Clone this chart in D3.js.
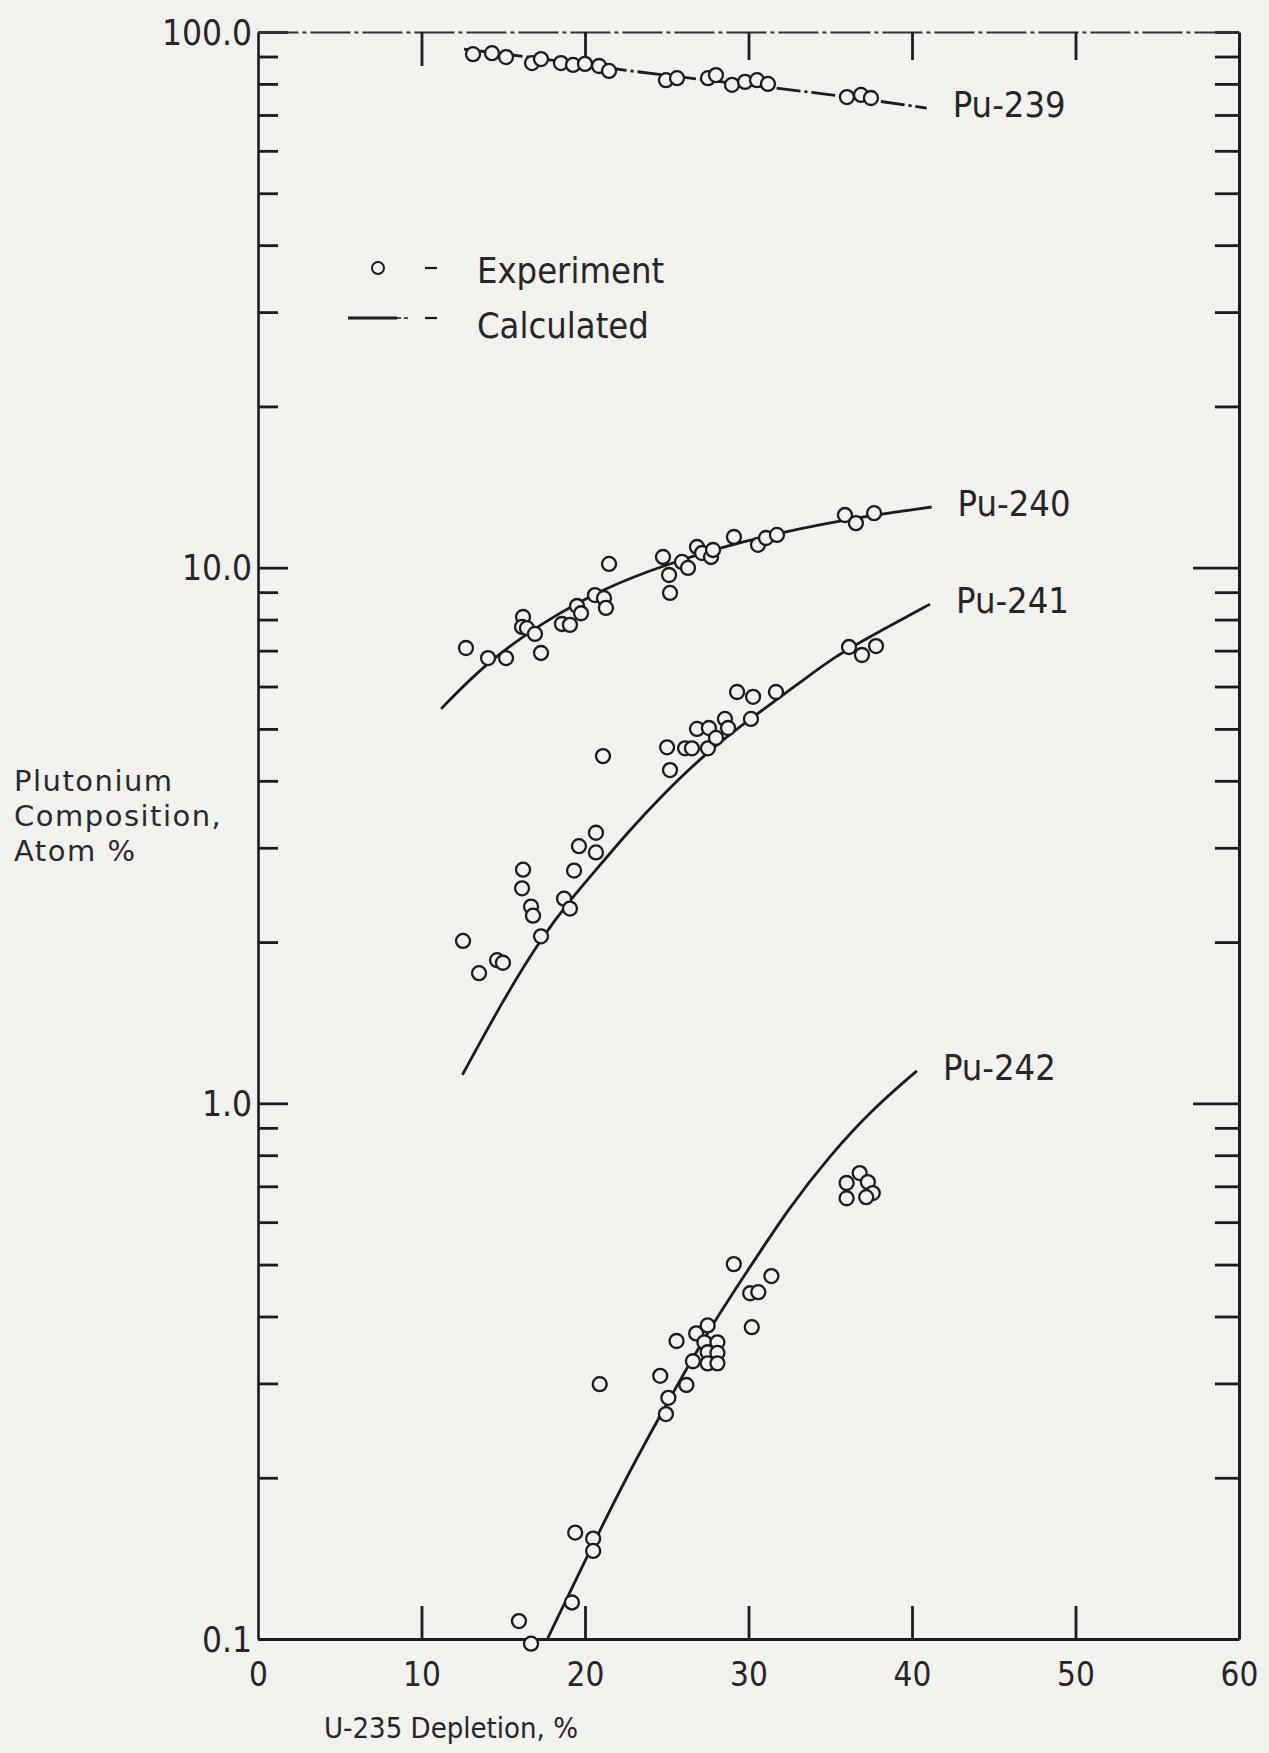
<!DOCTYPE html>
<html>
<head>
<meta charset="utf-8">
<script src="https://cdn.jsdelivr.net/npm/d3@7"></script>
<style>
  body { margin: 0; background: #f1f1ee; }
  svg { display: block; }
  .num { font-family: "DejaVu Sans Condensed", "DejaVu Sans", sans-serif; font-stretch: condensed; fill: #262626; }
  .ttl { font-family: "DejaVu Sans", "Noto Sans", sans-serif; fill: #2a2a2a; letter-spacing: 1.5px; }
</style>
</head>
<body>
<svg id="chart" width="1269" height="1753"></svg>
<script>
// axis values
var xTicks = [0, 10, 20, 30, 40, 50, 60];
var xInner = [10, 20, 30, 40, 50];
var yLabels = [0.1, 1, 10, 100];

var seriesNames = ["Pu-239", "Pu-240", "Pu-241", "Pu-242"];

// experiment points  [U-235 depletion %, atom %]
var pu239Exp = [[13.15,90.9],[14.31,91.3],[15.17,89.8],[16.76,87.5],[17.31,89.0],[18.53,87.5],
  [19.27,86.8],[20.0,87.2],[20.86,86.4],[21.47,84.6],[24.95,81.3],[25.63,82.0],[27.52,82.0],
  [28.01,83.1],[28.99,79.7],[29.79,80.7],[30.52,81.3],[31.19,80.0],[36.02,75.6],[36.88,76.3],[37.49,75.3]];

var pu240Exp = [[12.72,7.08],[14.07,6.78],[15.17,6.78],[16.21,8.09],[16.15,7.75],[16.45,7.71],
  [16.94,7.52],[17.31,6.93],[18.59,7.85],[19.08,7.82],[19.51,8.48],[19.76,8.22],[20.61,8.89],
  [21.16,8.77],[21.28,8.41],[21.47,10.16],[24.77,10.47],[25.14,9.69],[25.20,8.97],[25.93,10.25],
  [26.30,9.99],[26.85,10.93],[27.16,10.65],[27.71,10.47],[27.83,10.79],[29.11,11.41],[30.58,11.03],
  [31.07,11.36],[31.74,11.51],[35.90,12.54],[36.57,12.11],[37.68,12.64]];

var pu241Exp = [[12.54,2.01],[13.52,1.75],[14.62,1.85],[14.98,1.83],[16.21,2.73],[16.15,2.52],
  [16.70,2.33],[16.82,2.24],[17.31,2.05],[18.72,2.41],[19.08,2.31],[19.33,2.72],[19.63,3.02],
  [20.67,3.20],[20.67,2.94],[21.10,4.45],[25.02,4.62],[25.20,4.19],[26.12,4.60],[26.54,4.60],
  [26.85,5.00],[27.58,5.02],[27.52,4.60],[28.01,4.81],[28.56,5.22],[28.75,5.02],[29.30,5.86],
  [30.28,5.74],[30.15,5.22],[31.68,5.86],[36.15,7.11],[36.94,6.87],[37.80,7.14]];

var pu242Exp = [[15.96,0.108],[16.7,0.098],[19.2,0.117],[19.4,0.158],[20.5,0.154],[20.5,0.146],
  [20.9,0.299],[24.6,0.31],[25.1,0.282],[24.95,0.263],[26.2,0.298],[25.6,0.36],[26.8,0.372],
  [26.6,0.330],[27.5,0.385],[27.3,0.358],[28.1,0.358],[27.5,0.343],[28.1,0.342],[27.5,0.327],
  [28.1,0.327],[29.1,0.501],[30.1,0.442],[30.6,0.444],[30.2,0.382],[31.4,0.476],[36.0,0.71],
  [36.8,0.741],[37.3,0.713],[37.6,0.68],[36.0,0.665],[37.2,0.668]];

// calculated curves
var pu239Calc = [[12.6,92.9],[17,89.5],[21.5,85.5],[26,82.3],[31,79],[36,75.8],[40.9,72.1]];
var pu240Calc = [[11.2,5.45],[13.8,6.58],[17.3,7.88],[21.3,9.2],[24.8,10.1],[29.5,11.2],[35.7,12.3],[41.2,12.98]];
var pu241Calc = [[12.5,1.13],[15,1.56],[17.3,2.03],[19.2,2.42],[20.9,2.78],[22.6,3.2],[24.6,3.73],
  [27.4,4.51],[30.2,5.25],[33,6.05],[35.2,6.81],[38,7.6],[41.1,8.55]];
var pu242Calc = [[17.7,0.1],[20,0.14],[22.5,0.2],[25,0.275],[27.5,0.375],[30,0.49],[32.5,0.64],[35,0.8],[37.5,0.97],[40.3,1.15]];

var expSets = [pu239Exp, pu240Exp, pu241Exp, pu242Exp];
var calcSets = [pu239Calc, pu240Calc, pu241Calc, pu242Calc];

var ink = "#1c1c1c";
var paper = "#f1f1ee";

var svg = d3.select("#chart");
svg.append("rect").attr("width", 1269).attr("height", 1753).attr("fill", paper);

var x = d3.scaleLinear().domain([0, 60]).range([258, 1239]);
var y = d3.scaleLog().domain([0.1, 100]).range([1639, 32]);

function isDecade(d) {
  var l = Math.log10(d);
  return Math.abs(l - Math.round(l)) < 1e-6;
}

// left axis, ticks inside
var leftAxis = svg.append("g")
    .attr("transform", "translate(" + x(0) + ",0)")
    .call(d3.axisLeft(y).tickValues(y.ticks()).tickSizeInner(-20).tickSizeOuter(0).tickFormat(""));
leftAxis.selectAll(".tick line").attr("x2", function(d) { return isDecade(d) ? 30 : 20; });

// right axis, ticks inside
var rightAxis = svg.append("g")
    .attr("transform", "translate(" + x(60) + ",0)")
    .call(d3.axisRight(y).tickValues(y.ticks()).tickSizeInner(-24).tickSizeOuter(0).tickFormat(""));
rightAxis.selectAll(".tick line").attr("x2", function(d) { return isDecade(d) && d > 0.1 && d < 100 ? -46 : -24; });

// bottom axis
var bottomAxis = svg.append("g")
    .attr("transform", "translate(0," + y(0.1) + ")")
    .call(d3.axisBottom(x).tickValues(xTicks).tickSizeInner(-33).tickSizeOuter(0).tickPadding(24));
bottomAxis.selectAll(".tick line").attr("y2", function(d) { return xInner.indexOf(d) >= 0 ? -33 : 0; });
bottomAxis.selectAll(".tick text").attr("class", "num").attr("font-size", 33).attr("font-family", null);

// top axis, scan left it dashed
var topAxis = svg.append("g")
    .attr("transform", "translate(0," + y(100) + ")")
    .call(d3.axisTop(x).tickValues(xInner).tickSizeInner(-30).tickSizeOuter(0).tickFormat(""));
topAxis.selectAll(".tick line").attr("y2", function(d) { return d == 10 ? 34 : 28; });

svg.selectAll(".domain").attr("stroke", ink);
svg.selectAll(".tick line").attr("stroke", ink).attr("stroke-width", 2.8);
leftAxis.select(".domain").attr("stroke-width", 2.6);
rightAxis.select(".domain").attr("stroke-width", 3);
bottomAxis.select(".domain").attr("stroke-width", 3);
topAxis.select(".domain").attr("stroke-dasharray", "40,4,4,4").attr("stroke-width", 2).attr("stroke", "#333");

// y tick labels
svg.selectAll(".ylab")
  .data(yLabels)
  .enter().append("text")
    .attr("class", "num")
    .attr("x", x(0) - 6)
    .attr("y", function(d) { return y(d); })
    .attr("dy", "0.36em")
    .attr("text-anchor", "end")
    .attr("font-size", 35)
    .text(d3.format(".1f"));

// calculated lines
var line = d3.line()
    .x(function(d) { return x(d[0]); })
    .y(function(d) { return y(d[1]); })
    .curve(d3.curveBasis);

svg.selectAll(".calc")
  .data(calcSets)
  .enter().append("path")
    .attr("d", line)
    .attr("fill", "none")
    .attr("stroke", ink)
    .attr("stroke-width", 2.8)
    .attr("stroke-dasharray", function(d, i) { return i == 0 ? "24,4,3,4" : null; });

// experiment circles
expSets.forEach(function(set) {
  svg.append("g").selectAll("circle")
    .data(set)
    .enter().append("circle")
      .attr("cx", function(d) { return x(d[0]); })
      .attr("cy", function(d) { return y(d[1]); })
      .attr("r", 7)
      .attr("fill", paper)
      .attr("stroke", ink)
      .attr("stroke-width", 2.3);
});

// isotope labels at the end of each curve
svg.selectAll(".iso")
  .data(calcSets)
  .enter().append("text")
    .attr("class", "num")
    .attr("x", function(d) { return x(d[d.length - 1][0]) + 26; })
    .attr("y", function(d) { return y(d[d.length - 1][1]) - 4; })
    .attr("dy", "0.36em")
    .attr("font-size", 36)
    .text(function(d, i) { return seriesNames[i]; });

// legend
var legend = svg.append("g");
legend.append("circle").attr("cx", 378).attr("cy", 268).attr("r", 6)
    .attr("fill", "none").attr("stroke", ink).attr("stroke-width", 2);
legend.append("line").attr("x1", 425).attr("x2", 437).attr("y1", 268).attr("y2", 268)
    .attr("stroke", ink).attr("stroke-width", 2.2);
legend.append("text").attr("class", "num").attr("x", 477).attr("y", 283)
    .attr("font-size", 36).text("Experiment");
legend.append("line").attr("x1", 348).attr("x2", 397).attr("y1", 318).attr("y2", 318)
    .attr("stroke", ink).attr("stroke-width", 3);
legend.append("line").attr("x1", 397).attr("x2", 410).attr("y1", 318).attr("y2", 318)
    .attr("stroke", ink).attr("stroke-width", 1.4).attr("stroke-dasharray", "4,3");
legend.append("line").attr("x1", 425).attr("x2", 437).attr("y1", 318).attr("y2", 318)
    .attr("stroke", ink).attr("stroke-width", 2.2);
legend.append("text").attr("class", "num").attr("x", 477).attr("y", 338)
    .attr("font-size", 36).text("Calculated");

// axis titles, one text per line
var ytitleLines = ["Plutonium", "Composition,", "Atom %"];
svg.selectAll(".ytitle")
  .data(ytitleLines)
  .enter().append("text")
    .attr("class", "ttl")
    .attr("x", 14)
    .attr("y", function(d, i) { return 791 + i * 35; })
    .attr("font-size", 29)
    .text(function(d) { return d; });

svg.append("text")
    .attr("class", "num")
    .attr("x", 324)
    .attr("y", 1738)
    .attr("font-size", 29)
    .text("U-235 Depletion, %");
</script>
</body>
</html>
